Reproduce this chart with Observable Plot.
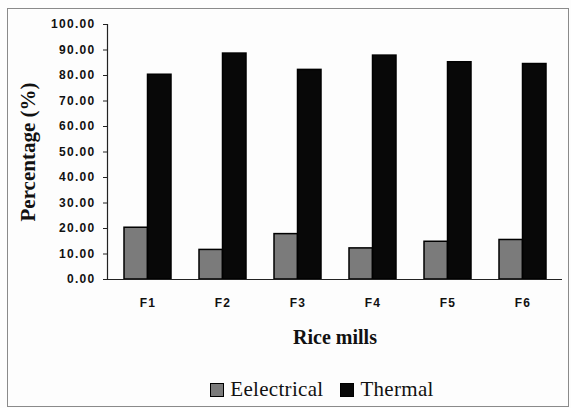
<!DOCTYPE html>
<html>
<head>
<meta charset="utf-8">
<script src="https://cdn.jsdelivr.net/npm/d3@7"></script>
<script src="https://cdn.jsdelivr.net/npm/@observablehq/plot@0.6"></script>
<style>
  html, body { margin: 0; padding: 0; background: #fdfdfd; }
  #wrap { position: relative; width: 571px; height: 408px; overflow: hidden; }
  #frame { position: absolute; left: 7px; top: 8px; width: 560px; height: 397px; border: 1px solid #8a8a8a; pointer-events: none; }
  #chart { position: absolute; left: 0; top: 0; }
  #legend { position: absolute; left: 0; width: 571px; top: 377px; display: flex; justify-content: center; align-items: center; padding-left: 90px; box-sizing: border-box;
            font-family: "Liberation Serif", "DejaVu Serif", serif; font-size: 21px; letter-spacing: 0.3px; color: #111; }
  .sw { display: inline-block; width: 12px; height: 12px; border: 1.5px solid #000; margin-right: 6px; }
  .item { display: flex; align-items: center; margin-right: 17px; }
</style>
</head>
<body>
<div id="wrap">
  <div id="chart"></div>
  <div id="legend"></div>
  <div id="frame"></div>
</div>
<script>
const mills = ["F1", "F2", "F3", "F4", "F5", "F6"];
const electrical = [20.3, 11.6, 17.8, 12.2, 14.8, 15.5];
const thermal = [80.3, 88.6, 82.2, 87.8, 85.2, 84.5];
const seriesNames = ["Eelectrical", "Thermal"];
const seriesColors = ["#7b7b7b", "#080808"];
const yTicks = d3.range(0, 101, 10);

const width = 571, height = 365;
const marginLeft = 107, marginRight = 9, marginTop = 24, marginBottom = 86;
const padInner = 0.38;
const step = (width - marginLeft - marginRight) / mills.length;
const bandwidth = step * (1 - padInner);
const half = bandwidth / 2;

const rows = mills.map((m, i) => ({mill: m, electrical: electrical[i], thermal: thermal[i]}));

const chart = Plot.plot({
  width, height, marginLeft, marginRight, marginTop, marginBottom,
  style: {background: "transparent", fontFamily: "Arial, 'Liberation Sans', sans-serif", color: "#111"},
  x: {domain: mills, paddingInner: padInner, paddingOuter: padInner / 2},
  y: {domain: [0, 100]},
  marks: [
    Plot.barY(rows, {x: "mill", y: "electrical", fill: seriesColors[0], stroke: "#000", strokeWidth: 1.5, insetRight: half}),
    Plot.barY(rows, {x: "mill", y: "thermal", fill: seriesColors[1], stroke: "#000", strokeWidth: 1.5, insetLeft: half}),
    Plot.ruleY([0], {stroke: "#222", strokeWidth: 1.2}),
    Plot.frame({anchor: "left", stroke: "#222", strokeWidth: 1.2}),
    Plot.axisY({ticks: yTicks, tickFormat: d3.format(".2f"), tickSize: 4, tickPadding: 8, fontSize: 12, fontWeight: "bold", label: null, stroke: "#222"}),
    Plot.axisX({tickSize: 0, tickPadding: 19, fontSize: 12, fontWeight: "bold", label: null}),
    Plot.text(["Rice mills"], {frameAnchor: "bottom", dy: 64, fontFamily: "'Liberation Serif', serif", fontWeight: "bold", fontSize: 20, fill: "#111"}),
    Plot.text(["Percentage (%)"], {frameAnchor: "left", textAnchor: "middle", dx: -79, rotate: -90, fontFamily: "'Liberation Serif', serif", fontWeight: "bold", fontSize: 21, fill: "#111"})
  ]
});
document.getElementById("chart").append(chart);
chart.querySelectorAll('g[aria-label="y-axis tick label"] text, g[aria-label="x-axis tick label"] text').forEach(t => t.setAttribute("letter-spacing", "1.3"));

const legend = document.getElementById("legend");
seriesNames.forEach((name, i) => {
  const item = document.createElement("span");
  item.className = "item";
  const sw = document.createElement("span");
  sw.className = "sw";
  sw.style.background = seriesColors[i];
  item.append(sw, document.createTextNode(name));
  legend.append(item);
});
</script>
</body>
</html>
